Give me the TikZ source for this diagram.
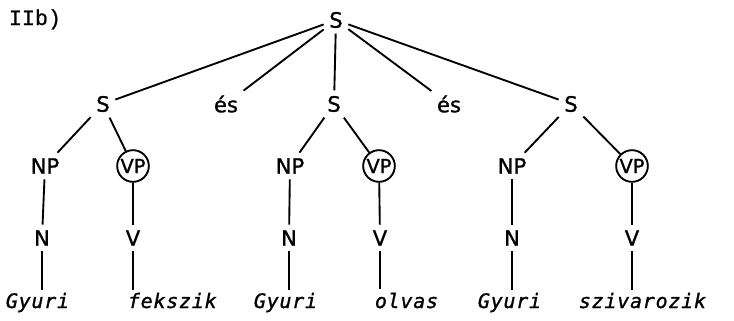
\documentclass[tikz,border=0pt]{standalone}
\usepackage{fontspec}
\setmainfont{DejaVu Sans}
\newfontfamily\catfont[FakeBold=1.2]{DejaVu Sans}
\newfontfamily\wordfont[LetterSpace=4, FakeBold=1.2]{DejaVu Sans Mono}
\newfontfamily\typefont[FakeBold=0.8]{Liberation Mono}
\usetikzlibrary{positioning}

\begin{document}
\begin{tikzpicture}[
    line width=1.6pt,
    cat/.style={inner sep=4pt, font=\catfont\fontsize{18}{20}\selectfont},
    head/.style={circle, draw, inner sep=0pt, minimum size=0.95cm, font=\catfont\fontsize{16.5}{18}\selectfont},
    word/.style={anchor=base west, inner sep=0pt, font=\wordfont\itshape\fontsize{17}{19}\selectfont}
  ]
\useasboundingbox (0,0) rectangle (22.02,9.6);

% Label
\node[anchor=base west, inner sep=0pt, font=\typefont\fontsize{18.5}{20}\selectfont] (lab) at (0.24,8.85) {IIb)};

% Root
\node[cat] (s) at (10.08,9.0) {S};

% Conjuncts
\node[cat] (s1) at (3.09,6.48) {S};
\node[cat] (es1) at (6.78,6.48) {és};
\node[cat] (s2) at (10.02,6.48) {S};
\node[cat] (es2) at (13.47,6.48) {és};
\node[cat] (s3) at (17.13,6.48) {S};

% NP and VP
\node[cat] (np1) at (1.35,4.62) {NP};
\node[head] (vp1) at (3.99,4.62) {VP};
\node[cat] (np2) at (8.70,4.62) {NP};
\node[head] (vp2) at (11.37,4.62) {VP};
\node[cat] (np3) at (15.36,4.62) {NP};
\node[head] (vp3) at (18.96,4.62) {VP};

% N and V
\node[cat] (n1) at (1.26,2.46) {N};
\node[cat] (v1) at (3.99,2.46) {V};
\node[cat] (n2) at (8.67,2.46) {N};
\node[cat] (v2) at (11.40,2.46) {V};
\node[cat] (n3) at (15.36,2.46) {N};
\node[cat] (v3) at (18.96,2.46) {V};

% Words
\node[word] (w1) at (0.15,0.36) {Gyuri};
\node[word] (w2) at (3.81,0.36) {fekszik};
\node[word] (w3) at (7.59,0.36) {Gyuri};
\node[word] (w4) at (11.22,0.36) {olvas};
\node[word] (w5) at (14.31,0.36) {Gyuri};
\node[word] (w6) at (17.34,0.36) {szivarozik};

% Edges
\draw (s) -- (s1);
\draw (s) -- (es1);
\draw (s) -- (s2);
\draw (s) -- (es2);
\draw (s) -- (s3);
\foreach \i in {1,2,3} {
  \draw (s\i) -- (np\i);
  \draw (s\i) -- (vp\i);
  \draw (np\i) -- (n\i);
  \draw (vp\i) -- (v\i);
}
\draw (n1) -- ([yshift=2pt]n1 |- w1.north);
\draw (v1) -- ([yshift=2pt]v1 |- w2.north);
\draw (n2) -- ([yshift=2pt]n2 |- w3.north);
\draw (v2) -- ([yshift=2pt]v2 |- w4.north);
\draw (n3) -- ([yshift=2pt]n3 |- w5.north);
\draw (v3) -- ([yshift=2pt]v3 |- w6.north);

\end{tikzpicture}
\end{document}
